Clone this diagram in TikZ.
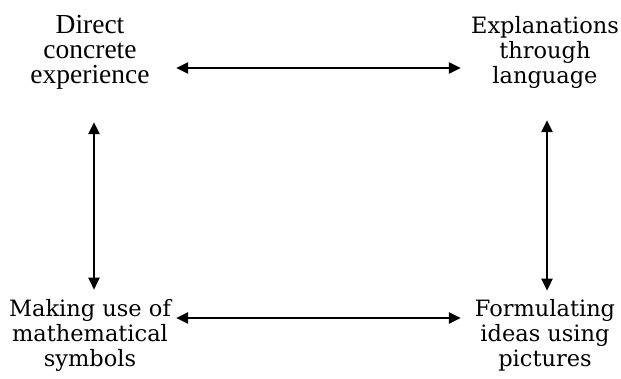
\documentclass[tikz,border=0pt]{standalone}
\usepackage{fontspec}
\setmainfont{Liberation Serif}
\newfontfamily\slab{DejaVu Serif}
\usetikzlibrary{arrows.meta,positioning}

\begin{document}
\begin{tikzpicture}[x=1pt,y=1pt,
  lbl/.style={align=center,inner sep=0pt,anchor=base,font=\fontsize{27.5}{25}\selectfont},
  lbls/.style={align=center,inner sep=0pt,anchor=base,font=\slab\fontsize{22.5}{25}\selectfont},
  a/.style={{Triangle[length=12pt,width=11pt]}-{Triangle[length=12pt,width=11pt]},line width=2.5pt}]
  \useasboundingbox (0,0) rectangle (621,-378);
  \node[lbl,minimum width=172pt] (direct) at (90,-83) {Direct\\concrete\\experience};
  \node[lbls,minimum width=168pt] (lang) at (545,-83) {Explanations\\through\\language};
  \node[lbls,minimum width=172pt] (sym) at (90,-366) {Making use of\\mathematical\\symbols};
  \node[lbls,minimum width=168pt] (pic) at (545,-366) {Formulating\\ideas using\\pictures};
  \draw[a] ([yshift=15pt]direct.base east) -- ([yshift=15pt]lang.base west);
  \draw[a] ([yshift=48pt]sym.base east) -- ([yshift=48pt]pic.base west);
  \draw[a,shorten <=33pt,shorten >=9pt] ([xshift=4pt]direct.south) -- ([xshift=4pt]sym.north);
  \draw[a,shorten <=32pt,shorten >=8pt] ([xshift=2pt]lang.south) -- ([xshift=2pt]pic.north);
\end{tikzpicture}
\end{document}
